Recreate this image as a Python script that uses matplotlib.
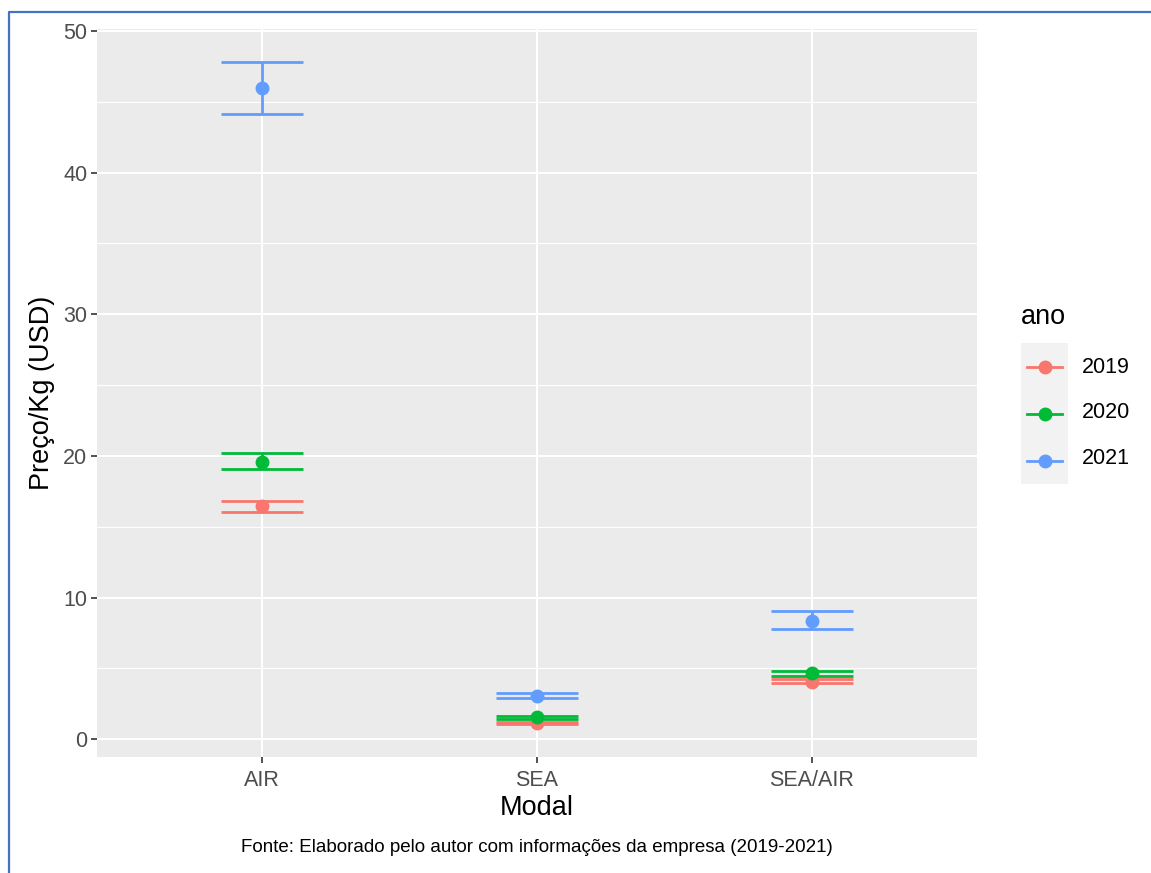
import matplotlib.pyplot as plt
from matplotlib.lines import Line2D
from matplotlib.patches import Rectangle
import numpy as np

plt.rcParams['font.family'] = ['Liberation Sans', 'DejaVu Sans']

modais = ["AIR", "SEA", "SEA/AIR"]
anos = ["2019", "2020", "2021"]
cores = ["#F8766D", "#00BA38", "#619CFF"]

# media e intervalo (inferior, superior) por ano, na ordem dos modais
media = {
    "2019": [16.45, 1.15, 4.05],
    "2020": [19.6, 1.58, 4.68],
    "2021": [45.95, 3.08, 8.38],
}
inferior = {
    "2019": [16.05, 1.08, 3.94],
    "2020": [19.08, 1.45, 4.44],
    "2021": [44.15, 2.88, 7.75],
}
superior = {
    "2019": [16.8, 1.22, 4.23],
    "2020": [20.2, 1.65, 4.83],
    "2021": [47.8, 3.28, 9.03],
}

W, H = 1151, 873
fig = plt.figure(figsize=(W / 100, H / 100), dpi=100)
ax = fig.add_axes([97 / W, (H - 757) / H, (977 - 97) / W, (757 - 29) / H])
ax.set_facecolor("#EBEBEB")

x = np.arange(len(modais))
for ano, cor in zip(anos, cores):
    ax.vlines(x, inferior[ano], superior[ano], color=cor, lw=2.0, zorder=3)
    ax.hlines(inferior[ano], x - 0.15, x + 0.15, color=cor, lw=2.0, zorder=3)
    ax.hlines(superior[ano], x - 0.15, x + 0.15, color=cor, lw=2.0, zorder=3)
    ax.plot(x, media[ano], "o", color=cor, ms=9, zorder=4)

lo = min(min(v) for v in inferior.values())
hi = max(max(v) for v in superior.values())
pad = (hi - lo) * 0.05
ax.set_ylim(lo - pad, hi + pad)
ax.set_xlim(-0.6, len(modais) - 0.4)

ax.set_xticks(x)
ax.set_xticklabels(modais)
ax.set_yticks([0, 10, 20, 30, 40, 50])
ax.set_yticks([5, 15, 25, 35, 45], minor=True)
ax.tick_params(axis="both", which="major", length=4, width=1.2, color="#333333",
               labelcolor="#4D4D4D", labelsize=15.5)
ax.tick_params(axis="x", which="major", pad=5)
ax.tick_params(axis="y", which="major", pad=3)
ax.tick_params(axis="y", which="minor", length=0)
ax.grid(True, which="major", color="white", lw=1.5)
ax.grid(True, which="minor", axis="y", color="white", lw=0.8)
ax.set_axisbelow(True)
for s in ax.spines.values():
    s.set_visible(False)

ax.set_xlabel("Modal", fontsize=19.5, labelpad=3)
ax.set_ylabel("Preço/Kg (USD)", fontsize=19.5, labelpad=6)

fig.text(537 / W, 1 - 848 / H, "Fonte: Elaborado pelo autor com informações da empresa (2019-2021)",
         ha="center", va="center", fontsize=13.5)

# legenda
fig.text(1021 / W, 1 - 317 / H, "ano", ha="left", va="center", fontsize=19.5)
leg = fig.add_axes([1021 / W, (H - 484) / H, 47 / W, 141 / H])
leg.set_xlim(0, 1)
leg.set_ylim(0, 3)
leg.axis("off")
leg.add_patch(Rectangle((0, 0), 1, 3, color="#F2F2F2", lw=0))
for i, (ano, cor) in enumerate(zip(anos, cores)):
    yk = 2.5 - i
    leg.plot([0.12, 0.88], [yk, yk], color=cor, lw=2.0)
    leg.plot([0.5], [yk], "o", color=cor, ms=9)
    fig.text(1082 / W, 1 - (367 + 46 * i) / H, ano, ha="left", va="center", fontsize=15.5)

# moldura
fig.add_artist(Line2D([9 / W, 9 / W, 1.0], [0.0, 1 - 12 / H, 1 - 12 / H],
                      color="#4472C4", lw=1.6, transform=fig.transFigure))

fig.savefig("out.png", dpi=100)
